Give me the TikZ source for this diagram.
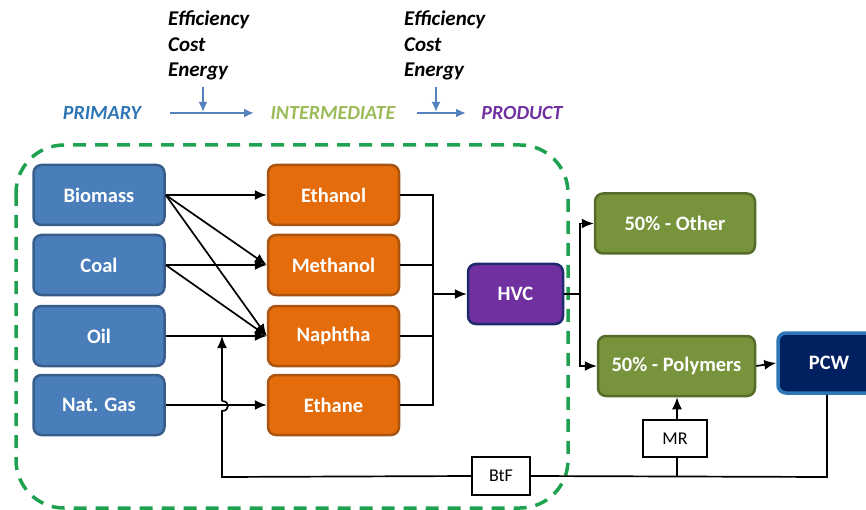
\documentclass[tikz,border=0pt]{standalone}
\usepackage{fontspec}
\setmainfont{Carlito}
\usetikzlibrary{arrows.meta}

\definecolor{srcfill}{RGB}{74,126,187}
\definecolor{srcline}{RGB}{56,93,138}
\definecolor{midfill}{RGB}{228,108,10}
\definecolor{midline}{RGB}{170,84,18}
\definecolor{hvcfill}{RGB}{112,48,160}
\definecolor{hvcline}{RGB}{32,40,110}
\definecolor{outfill}{RGB}{119,147,60}
\definecolor{outline}{RGB}{86,108,42}
\definecolor{pcwfill}{RGB}{0,32,96}
\definecolor{pcwline}{RGB}{46,117,182}
\definecolor{loopgreen}{RGB}{30,162,80}
\definecolor{hdrblue}{RGB}{46,117,182}
\definecolor{hdrgreen}{RGB}{155,187,89}
\definecolor{hdrpurple}{RGB}{112,48,160}
\definecolor{flowblue}{RGB}{84,130,190}

\tikzset{
  box/.style={rounded corners=8pt, line width=2.5pt, text=white,
    font=\fontsize{20.5}{24}\selectfont\bfseries, inner sep=0pt},
  srcbox/.style={box, draw=srcline, fill=srcfill, minimum width=131pt, minimum height=60pt},
  midbox/.style={box, draw=midline, fill=midfill, minimum width=131pt, minimum height=60pt},
  hvcbox/.style={box, draw=hvcline, fill=hvcfill, minimum width=95pt, minimum height=60pt},
  outbox/.style={box, draw=outline, fill=outfill, minimum height=60pt},
  pcwbox/.style={box, draw=pcwline, fill=pcwfill, line width=3.5pt, minimum width=102pt, minimum height=60pt},
  tagbox/.style={draw, line width=1.2pt, fill=white, inner sep=0pt,
    font=\fontsize{18}{20}\selectfont},
  link/.style={line width=1.7pt, draw=black},
  arr/.style={link, -{Latex[length=12pt,width=10pt]}},
  hdr/.style={font=\fontsize{20}{24}\selectfont\bfseries\itshape},
  note/.style={font=\fontsize{21}{24}\selectfont\bfseries\itshape, anchor=west, inner sep=0pt},
  flow/.style={line width=2pt, draw=flowblue, -{Latex[length=10pt,width=9pt]}}
}

\begin{document}
\begin{tikzpicture}[x=1pt,y=-1pt]
\useasboundingbox (0,0) rectangle (866,510);

% process boundary
\draw[loopgreen, line width=3.5pt, dash pattern=on 13pt off 9pt, rounded corners=48pt]
  (16,145) rectangle (568,508);

% header: stages and criteria
\node[hdr, text=hdrblue] (prim) at (102,113) {PRIMARY};
\node[hdr, text=hdrgreen] (inter) at (333,113) {INTERMEDIATE};
\node[hdr, text=hdrpurple] (prod) at (522,113) {PRODUCT};
\node[note] (e1) at (168,20) {Efficiency};
\node[note] (c1) at (168,45) {Cost};
\node[note] (g1) at (168,71) {Energy};
\node[note] (e2) at (404,20) {Efficiency};
\node[note] (c2) at (404,45) {Cost};
\node[note] (g2) at (404,71) {Energy};
\coordinate (a1s) at (170,113);
\coordinate (a1e) at (254,113);
\coordinate (a2s) at (417,113);
\coordinate (a2e) at (466,113);
\coordinate (d1s) at (203,87);
\coordinate (d1e) at (203,112);
\coordinate (d2s) at (436,87);
\coordinate (d2e) at (436,112);
\draw[flow] (a1s) -- (a1e);
\draw[flow] (a2s) -- (a2e);
\draw[flow] (d1s) -- (d1e);
\draw[flow] (d2s) -- (d2e);

% primary feedstocks
\node[srcbox] (bio) at (99,195) {Biomass};
\node[srcbox] (coal) at (99,265) {Coal};
\node[srcbox] (oil) at (99,336) {Oil};
\node[srcbox] (gas) at (99,405) {Nat. Gas};

% intermediates
\node[midbox] (eth) at (333.5,195) {Ethanol};
\node[midbox] (meth) at (333.5,265) {Methanol};
\node[midbox] (nap) at (333.5,336) {Naphtha};
\node[midbox] (ethane) at (333.5,405) {Ethane};

% products
\node[hvcbox] (hvc) at (515.5,294) {HVC};
\node[outbox, minimum width=160pt] (other) at (675,223.5) {50\% - Other};
\node[outbox, minimum width=157pt] (poly) at (676.5,366) {50\% - Polymers};
\node[pcwbox] (pcw) at (829,363) {PCW};

% recycling routes
\node[tagbox, minimum width=64pt, minimum height=37pt] (mr) at (675,438.5) {MR};
\node[tagbox, minimum width=58pt, minimum height=38pt] (btf) at (501,476) {BtF};

% feedstock to intermediate
\draw[arr] (bio.east) -- (eth.west);
\draw[arr] (bio.east) -- (meth.west);
\draw[arr] (bio.east) -- (nap.west);
\draw[arr] (coal.east) -- (meth.west);
\draw[arr] (coal.east) -- (nap.west);
\draw[arr] (oil.east) -- (nap.west);
\draw[arr] (gas.east) -- (ethane.west);

% collector bus into HVC
\coordinate (busT) at (433,195);
\coordinate (busB) at (433,405);
\coordinate (busM) at (433,294);
\draw[link] (eth.east) -- (busT) -- (busB) -- (ethane.east);
\draw[link] (meth.east) -- (meth.east -| busT);
\draw[link] (nap.east) -- (nap.east -| busT);
\draw[arr] (busM) -- (hvc.west);

% HVC split
\coordinate (split) at (580,294);
\draw[link] (hvc.east) -- (split);
\draw[arr] (split) |- (other.west);
\draw[arr] (split) |- (poly.west);
\draw[arr] (poly.east) -- (pcw.west);

% return loop from post-consumer waste
\coordinate (pcwdn) at (827,477);
\coordinate (mrj) at (677,477);
\coordinate (lc) at (222,477);
\coordinate (hopB) at (222,411);
\coordinate (hopT) at (222,401);
\coordinate (fb) at (222,336);
\draw[link] (pcw.south -| pcwdn) -- (pcwdn) -- (btf.east);
\draw[link] (btf.west) -- (lc) -- (hopB)
  .. controls (230,411) and (230,401) .. (hopT);
\draw[arr] (hopT) -- (fb);
\draw[link] (mrj) -- (mr.south -| mrj);
\draw[arr] (mr.north -| mrj) -- (poly.south -| mrj);

\end{tikzpicture}
\end{document}
